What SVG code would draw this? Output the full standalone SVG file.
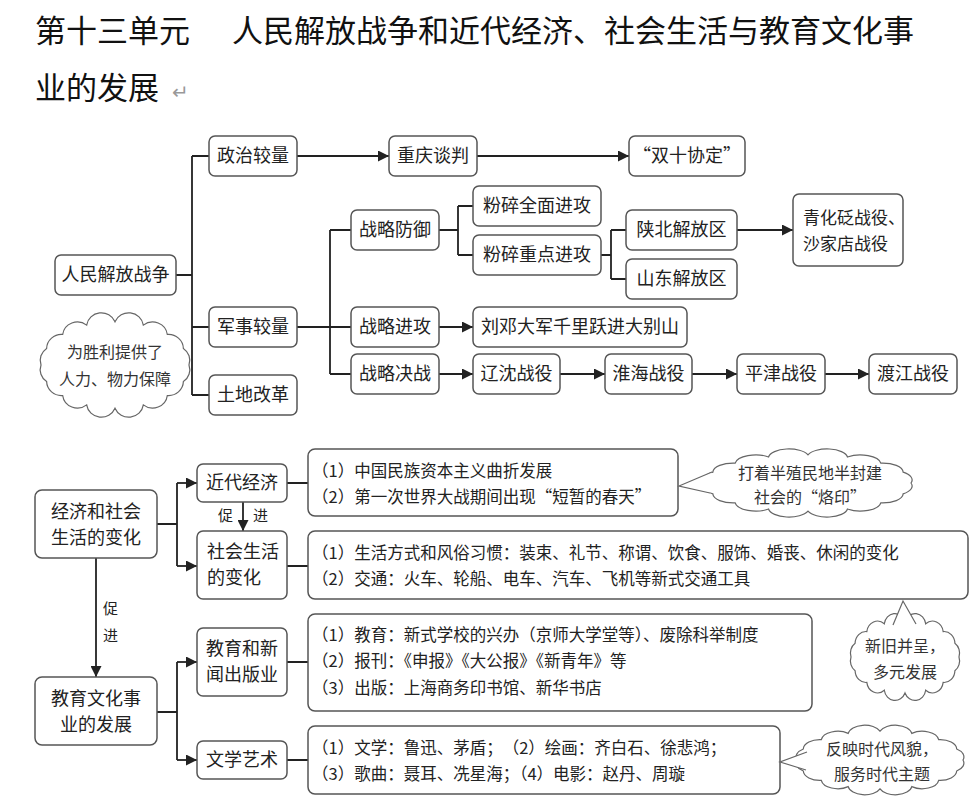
<svg xmlns="http://www.w3.org/2000/svg" width="970" height="811" viewBox="0 0 970 811">
<style>
text{font-family:"Noto Sans CJK SC","Liberation Sans",sans-serif;fill:#222}
.b{fill:#fff;stroke:#555;stroke-width:1.5}
.n{font-size:18px;text-anchor:middle}
.c{font-size:16.5px}
.l{fill:none;stroke:#222;stroke-width:1.8}
.cl{fill:#fff;stroke:#666;stroke-width:1.2}
.ct{font-size:16px;text-anchor:middle;fill:#333}
.t{font-size:31px;font-weight:400;fill:#111}
</style>
<defs>
<marker id="a" viewBox="0 0 10 10" refX="10" refY="5" markerWidth="11" markerHeight="11" markerUnits="userSpaceOnUse" orient="auto"><path d="M0,0L10,5L0,10z" fill="#222"/></marker>
<path id="cloud" vector-effect="non-scaling-stroke" d="M100,0 A20 20 0 0 1 92.4,23 A20 20 0 0 1 70.7,42.4 A20 20 0 0 1 38.3,55.4 A20 20 0 0 1 0,60 A20 20 0 0 1 -38.3,55.4 A20 20 0 0 1 -70.7,42.4 A20 20 0 0 1 -92.4,23 A20 20 0 0 1 -100,0 A20 20 0 0 1 -92.4,-23 A20 20 0 0 1 -70.7,-42.4 A20 20 0 0 1 -38.3,-55.4 A20 20 0 0 1 0,-60 A20 20 0 0 1 38.3,-55.4 A20 20 0 0 1 70.7,-42.4 A20 20 0 0 1 92.4,-23 A20 20 0 0 1 100,0 Z"/>
</defs>
<rect width="970" height="811" fill="#fff"/>
<text class="t" x="35" y="42">第十三单元</text>
<text class="t" x="232" y="42">人民解放战争和近代经济、社会生活与教育文化事</text>
<text class="t" x="35" y="99">业的发展</text>
<text x="172" y="99" style="font-size:20px;fill:#999">↵</text>

<g id="connectors">
<path class="l" d="M176,275H192M192,156V395M192,156H209M192,327H209M192,395H209"/>
<path class="l" d="M297,156H389" marker-end="url(#a)"/>
<path class="l" d="M477,156H629" marker-end="url(#a)"/>
<path class="l" d="M297,327H351M330,230V374M330,230H351M330,374H351"/>
<path class="l" d="M439,230H458M458,206V255M458,206H473M458,255H473"/>
<path class="l" d="M601,255H611M611,230V279M611,230H626M611,279H626"/>
<path class="l" d="M737,230H793" marker-end="url(#a)"/>
<path class="l" d="M439,327H473" marker-end="url(#a)"/>
<path class="l" d="M439,374H473" marker-end="url(#a)"/>
<path class="l" d="M560,374H605" marker-end="url(#a)"/>
<path class="l" d="M692,374H737" marker-end="url(#a)"/>
<path class="l" d="M825,374H869" marker-end="url(#a)"/>
<path class="l" d="M157,524H177M177,483V566"/>
<path class="l" d="M177,483H197" marker-end="url(#a)"/>
<path class="l" d="M177,566H197" marker-end="url(#a)"/>
<path class="l" d="M243,502V531" marker-end="url(#a)"/>
<path class="l" d="M96,558V677" marker-end="url(#a)"/>
<path class="l" d="M157,712H177M177,662V760"/>
<path class="l" d="M177,662H197" marker-end="url(#a)"/>
<path class="l" d="M177,760H197" marker-end="url(#a)"/>
<path class="l" d="M287,483H308M287,566H308M287,662H308M287,760H308"/>
<text x="218" y="521" style="font-size:15px">促</text>
<text x="253" y="521" style="font-size:15px">进</text>
<text x="103" y="614" style="font-size:15px">促</text>
<text x="103" y="641" style="font-size:15px">进</text>
</g>

<g id="n1"><rect class="b" x="55" y="255" width="121" height="40" rx="6"/><text class="n" x="115.5" y="281">人民解放战争</text></g>
<g id="n2"><rect class="b" x="209" y="136" width="88" height="40" rx="6"/><text class="n" x="253" y="162">政治较量</text></g>
<g id="n3"><rect class="b" x="389" y="136" width="88" height="40" rx="6"/><text class="n" x="433" y="162">重庆谈判</text></g>
<g id="n4"><rect class="b" x="629" y="136" width="116" height="40" rx="6"/><text class="n" x="687" y="162">“双十协定”</text></g>
<g id="n5"><rect class="b" x="209" y="307" width="88" height="40" rx="6"/><text class="n" x="253" y="333">军事较量</text></g>
<g id="n6"><rect class="b" x="209" y="375" width="88" height="40" rx="6"/><text class="n" x="253" y="401">土地改革</text></g>
<g id="n7"><rect class="b" x="351" y="210" width="88" height="40" rx="6"/><text class="n" x="395" y="236">战略防御</text></g>
<g id="n8"><rect class="b" x="351" y="307" width="88" height="40" rx="6"/><text class="n" x="395" y="333">战略进攻</text></g>
<g id="n9"><rect class="b" x="351" y="354" width="88" height="40" rx="6"/><text class="n" x="395" y="380">战略决战</text></g>
<g id="n10"><rect class="b" x="473" y="186" width="128" height="40" rx="6"/><text class="n" x="537" y="212">粉碎全面进攻</text></g>
<g id="n11"><rect class="b" x="473" y="235" width="128" height="40" rx="6"/><text class="n" x="537" y="261">粉碎重点进攻</text></g>
<g id="n12"><rect class="b" x="626" y="210" width="111" height="40" rx="6"/><text class="n" x="681.5" y="236">陕北解放区</text></g>
<g id="n13"><rect class="b" x="626" y="259" width="111" height="40" rx="6"/><text class="n" x="681.5" y="285">山东解放区</text></g>
<g id="n14"><rect class="b" x="793" y="194" width="110" height="72" rx="6"/><text class="n" x="803" y="224" style="text-anchor:start;font-size:17px">青化砭战役、</text><text class="n" x="803" y="250" style="text-anchor:start;font-size:17px">沙家店战役</text></g>
<g id="n15"><rect class="b" x="473" y="307" width="214" height="40" rx="6"/><text class="n" x="580" y="333">刘邓大军千里跃进大别山</text></g>
<g id="n16"><rect class="b" x="473" y="354" width="87" height="40" rx="6"/><text class="n" x="516.5" y="380">辽沈战役</text></g>
<g id="n17"><rect class="b" x="605" y="354" width="87" height="40" rx="6"/><text class="n" x="648.5" y="380">淮海战役</text></g>
<g id="n18"><rect class="b" x="737" y="354" width="88" height="40" rx="6"/><text class="n" x="781" y="380">平津战役</text></g>
<g id="n19"><rect class="b" x="869" y="354" width="88" height="40" rx="6"/><text class="n" x="913" y="380">渡江战役</text></g>
<g id="cloudA"><use href="#cloud" class="cl" transform="translate(115,365) scale(0.74,0.72)"/><text class="ct" x="115" y="358">为胜利提供了</text><text class="ct" x="115" y="385">人力、物力保障</text></g>

<g id="m1"><rect class="b" x="35" y="490" width="122" height="68" rx="7"/><text class="n" x="96" y="518">经济和社会</text><text class="n" x="96" y="544">生活的变化</text></g>
<g id="m2"><rect class="b" x="197" y="464" width="90" height="38" rx="6"/><text class="n" x="242" y="489">近代经济</text></g>
<g id="m3"><rect class="b" x="197" y="531" width="90" height="68" rx="6"/><text class="n" x="207" y="558" style="text-anchor:start">社会生活</text><text class="n" x="207" y="584" style="text-anchor:start">的变化</text></g>
<g id="m4"><rect class="b" x="35" y="677" width="122" height="68" rx="7"/><text class="n" x="96" y="705">教育文化事</text><text class="n" x="96" y="731">业的发展</text></g>
<g id="m5"><rect class="b" x="197" y="628" width="90" height="68" rx="6"/><text class="n" x="242" y="655">教育和新</text><text class="n" x="242" y="681">闻出版业</text></g>
<g id="m6"><rect class="b" x="197" y="741" width="90" height="38" rx="6"/><text class="n" x="242" y="766">文学艺术</text></g>
<g id="d1"><rect class="b" x="308" y="449" width="370" height="67" rx="7"/><text class="c" x="312" y="477">（1）中国民族资本主义曲折发展</text><text class="c" x="312" y="503">（2）第一次世界大战期间出现“短暂的春天”</text></g>
<g id="d2"><rect class="b" x="308" y="531" width="660" height="68" rx="7"/><text class="c" x="312" y="559">（1）生活方式和风俗习惯：装束、礼节、称谓、饮食、服饰、婚丧、休闲的变化</text><text class="c" x="312" y="585">（2）交通：火车、轮船、电车、汽车、飞机等新式交通工具</text></g>
<g id="d3"><rect class="b" x="308" y="614" width="504" height="97" rx="7"/><text class="c" x="312" y="641">（1）教育：新式学校的兴办（京师大学堂等）、废除科举制度</text><text class="c" x="312" y="667">（2）报刊：《申报》《大公报》《新青年》等</text><text class="c" x="312" y="694">（3）出版：上海商务印书馆、新华书店</text></g>
<g id="d4"><rect class="b" x="308" y="726" width="472" height="68" rx="7"/><text class="c" x="312" y="754">（1）文学：鲁迅、茅盾；　（2）绘画：齐白石、徐悲鸿；</text><text class="c" x="312" y="780">（3）歌曲：聂耳、冼星海；（4）电影：赵丹、周璇</text></g>

<g id="cloud1"><use href="#cloud" class="cl" transform="translate(808,483) scale(1.03,0.47)"/><polygon points="712,472 679,486 710,493" fill="#fff"/><polyline points="712,472 679,486 710,493" fill="none" stroke="#666" stroke-width="1.2"/><text class="ct" x="810" y="479">打着半殖民地半封建</text><text class="ct" x="810" y="503">社会的“烙印”</text></g>
<g id="cloud2"><use href="#cloud" class="cl" transform="translate(905,657) scale(0.54,0.6)"/><polygon points="893,625 903,601 916,624" fill="#fff"/><polyline points="893,625 903,601 916,624" fill="none" stroke="#666" stroke-width="1.2"/><text class="ct" x="905" y="652">新旧并呈，</text><text class="ct" x="905" y="678">多元发展</text></g>
<g id="cloud3"><use href="#cloud" class="cl" transform="translate(880,760) scale(0.83,0.48)"/><polygon points="807,752 780,762 806,770" fill="#fff"/><polyline points="807,752 780,762 806,770" fill="none" stroke="#666" stroke-width="1.2"/><text class="ct" x="882" y="755">反映时代风貌，</text><text class="ct" x="882" y="780">服务时代主题</text></g>
</svg>
